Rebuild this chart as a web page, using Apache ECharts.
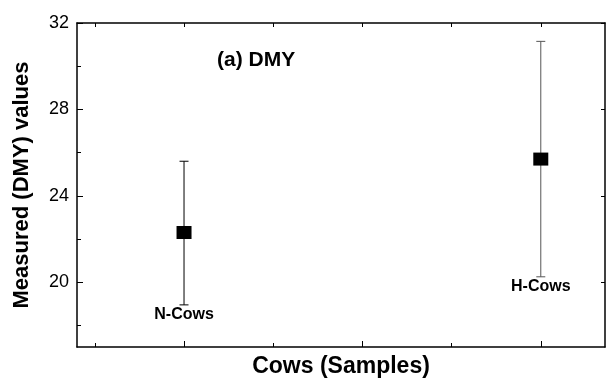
<!DOCTYPE html>
<html><head><meta charset="utf-8">
<script src="https://cdn.jsdelivr.net/npm/echarts@6/dist/echarts.min.js"></script>
<style>html,body{margin:0;padding:0;background:#fff}#c{width:608px;height:383px}</style>
</head><body><div id="c"></div>
<script>
// ---- data ----
const categories = ['N-Cows', 'H-Cows'];
const xPositions = [1, 3];
const meanValues = [22.3, 25.7];
const lowerValues = [18.95, 20.25];
const upperValues = [25.6, 31.15];
const yMajorTicks = [20, 24, 28, 32];
const yMinorTicks = [18, 22, 26, 30];
const xMajorTicks = [1, 2, 3];
const xMinorTicks = [0.5, 1.5, 2.5];
const panelTitle = '(a) DMY';
const xTitle = 'Cows (Samples)';
const yTitle = 'Measured (DMY) values';

const FONT = '"Liberation Sans", Arial, sans-serif';
const XMIN = 0.4, XMAX = 3.36, YMIN = 17, YMAX = 32;
const whiskerColors = ['#000', '#555'];

const chart = echarts.init(document.getElementById('c'), null, {renderer: 'canvas'});

const lineStyle = {color: '#000', width: 1.5};
function xAx(extra) {
  return Object.assign({
    type: 'value', min: XMIN, max: XMAX, gridIndex: 0,
    axisLine: {show: false, onZero: false},
    axisLabel: {show: false},
    splitLine: {show: false},
    axisTick: {show: false}
  }, extra);
}
function yAx(extra) {
  return Object.assign({
    type: 'value', min: YMIN, max: YMAX, gridIndex: 0,
    axisLine: {show: false, onZero: false},
    axisLabel: {show: false},
    splitLine: {show: false},
    axisTick: {show: false}
  }, extra);
}

const option = {
  animation: false,
  backgroundColor: '#fff',
  grid: {left: 77, top: 23, right: 3, bottom: 33, containLabel: false},
  xAxis: [
    xAx({position: 'bottom',
      axisLine: {show: true, onZero: false, lineStyle: lineStyle},
      axisTick: {show: true, inside: true, length: 6, customValues: xMajorTicks, lineStyle: {color: '#000', width: 1}},
      name: xTitle, nameLocation: 'middle', nameGap: 8,
      nameTextStyle: {fontFamily: FONT, fontWeight: 'bold', fontSize: 23, color: '#000'}
    }),
    xAx({position: 'bottom',
      axisTick: {show: true, inside: true, length: 4, customValues: xMinorTicks, lineStyle: {color: '#000', width: 1}}
    }),
    xAx({position: 'top',
      axisLine: {show: true, onZero: false, lineStyle: lineStyle},
      axisTick: {show: true, inside: true, length: 4, customValues: xMajorTicks.concat(xMinorTicks), lineStyle: {color: '#000', width: 1}}
    })
  ],
  yAxis: [
    yAx({position: 'left',
      axisLine: {show: true, onZero: false, lineStyle: lineStyle},
      axisTick: {show: true, inside: true, length: 6, customValues: yMajorTicks, lineStyle: {color: '#000', width: 1}},
      axisLabel: {show: true, customValues: yMajorTicks, margin: 8, fontFamily: FONT, fontSize: 18, color: '#000'},
      name: yTitle, nameLocation: 'middle', nameGap: 44,
      nameTextStyle: {fontFamily: FONT, fontWeight: 'bold', fontSize: 22, color: '#000'}
    }),
    yAx({position: 'left',
      axisTick: {show: true, inside: true, length: 4, customValues: yMinorTicks, lineStyle: {color: '#000', width: 1}}
    }),
    yAx({position: 'right',
      axisLine: {show: true, onZero: false, lineStyle: lineStyle},
      axisTick: {show: true, inside: true, length: 4, customValues: yMajorTicks, lineStyle: {color: '#000', width: 1}}
    })
  ],
  graphic: [{
    type: 'text', left: 217, top: 50,
    style: {text: panelTitle, font: 'bold 21px ' + FONT, fill: '#000'}
  }],
  series: [
    {
      type: 'custom', xAxisIndex: 0, yAxisIndex: 0, z: 2,
      data: xPositions.map((x, i) => [x, lowerValues[i], upperValues[i], i]),
      renderItem: function (params, api) {
        const x = api.value(0), lo = api.value(1), hi = api.value(2), idx = api.value(3);
        const pLo = api.coord([x, lo]);
        const pHi = api.coord([x, hi]);
        const c = whiskerColors[idx];
        const cap = 4.5;
        return {type: 'group', children: [
          {type: 'line', shape: {x1: pLo[0], y1: pLo[1], x2: pHi[0], y2: pHi[1]}, style: {stroke: c, lineWidth: 1}},
          {type: 'line', shape: {x1: pLo[0] - cap, y1: pLo[1], x2: pLo[0] + cap, y2: pLo[1]}, style: {stroke: c, lineWidth: 1}},
          {type: 'line', shape: {x1: pHi[0] - cap, y1: pHi[1], x2: pHi[0] + cap, y2: pHi[1]}, style: {stroke: c, lineWidth: 1}},
          {type: 'text', style: {text: categories[idx], x: pLo[0], y: pLo[1] + 2, align: 'center', verticalAlign: 'top',
            font: 'bold 16px ' + FONT, fill: '#000'}}
        ]};
      }
    },
    {
      type: 'scatter', xAxisIndex: 0, yAxisIndex: 0, z: 3,
      symbol: 'rect', symbolSize: [15, 13],
      itemStyle: {color: '#000', opacity: 1},
      data: xPositions.map((x, i) => [x, meanValues[i]])
    }
  ]
};
chart.setOption(option);
</script>
</body></html>
